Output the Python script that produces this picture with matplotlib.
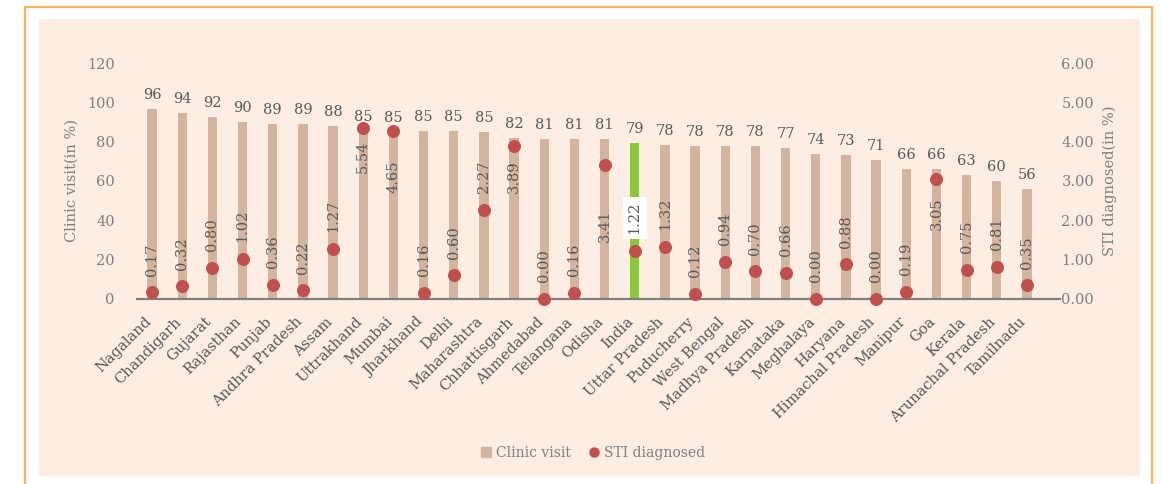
import numpy as np
import matplotlib
matplotlib.use("Agg")
import matplotlib.pyplot as plt
import matplotlib.transforms as mtransforms
from matplotlib.patches import Rectangle
from matplotlib.lines import Line2D

states = ["Nagaland", "Chandigarh", "Gujarat", "Rajasthan", "Punjab",
          "Andhra Pradesh", "Assam", "Uttrakhand", "Mumbai", "Jharkhand",
          "Delhi", "Maharashtra", "Chhattisgarh", "Ahmedabad", "Telangana",
          "Odisha", "India", "Uttar Pradesh", "Puducherry", "West Bengal",
          "Madhya Pradesh", "Karnataka", "Meghalaya", "Haryana",
          "Himachal Pradesh", "Manipur", "Goa", "Kerala",
          "Arunachal Pradesh", "Tamilnadu"]
clinic_visit = [96.4, 94.4, 92.4, 89.8, 89.1, 88.8, 87.9, 85.2, 85.1, 85.4,
                85.4, 84.9, 81.9, 81.4, 81.4, 81.3, 79.3, 78.3, 77.9, 77.9,
                77.8, 76.9, 73.9, 73.0, 70.7, 66.1, 65.9, 63.0, 60.2, 55.9]
sti_label = ["0.17", "0.32", "0.80", "1.02", "0.36", "0.22", "1.27", "5.54",
             "4.65", "0.16", "0.60", "2.27", "3.89", "0.00", "0.16", "3.41",
             "1.22", "1.32", "0.12", "0.94", "0.70", "0.66", "0.00", "0.88",
             "0.00", "0.19", "3.05", "0.75", "0.81", "0.35"]
# dot heights as drawn in the source (Uttrakhand / Mumbai sit below their labels)
sti_dot = [0.17, 0.32, 0.80, 1.02, 0.36, 0.22, 1.27, 4.35, 4.28, 0.16, 0.60,
           2.27, 3.89, 0.00, 0.16, 3.41, 1.22, 1.32, 0.12, 0.94, 0.70, 0.66,
           0.00, 0.88, 0.00, 0.19, 3.05, 0.75, 0.81, 0.35]

BAR = "#d3b49f"
HIGHLIGHT = "#8dc63f"
DOT = "#c0504d"
BG = "#fdede3"
TXT = "#595959"
TICK = "#7f7f7f"
FONT = "DejaVu Serif"

# label offsets in px (positive = above the dot)
label_off = {"Uttrakhand": -29, "Mumbai": -46, "Chhattisgarh": -31,
             "Odisha": -61, "Goa": -35}

plt.rcParams["font.family"] = FONT
fig = plt.figure(figsize=(11.61, 4.84), dpi=100)
fig.patch.set_facecolor("white")
W, H = 1161, 484
fig.add_artist(Rectangle((39 / W, 1 - 476 / H), (1140 - 39) / W, (476 - 19) / H,
                         transform=fig.transFigure, facecolor=BG,
                         edgecolor="none", zorder=0))
fig.add_artist(Line2D([25 / W, 25 / W, 1152 / W, 1152 / W],
                      [0, 1 - 6.5 / H, 1 - 6.5 / H, 0],
                      transform=fig.transFigure, color="#f8b45a", lw=1.6))

ax = fig.add_axes([137 / W, 1 - 299 / H, (1042 - 137) / W, (299 - 63) / H])
ax.set_facecolor("none")
x = np.arange(len(states))
colors = [HIGHLIGHT if s == "India" else BAR for s in states]
ax.bar(x, clinic_visit, width=0.31, color=colors, zorder=2)
ax.set_xlim(-0.5, len(states) - 0.5)
ax.set_ylim(0, 120)
ax.set_yticks(range(0, 121, 20))
for xi, v in zip(x, clinic_visit):
    ax.annotate(f"{v:.0f}", (xi, v), xytext=(0, 5), textcoords="offset points",
                ha="center", va="bottom", fontsize=10.5, color=TXT)
ax.set_ylabel("Clinic visit(in %)", fontsize=10.5, color=TICK, labelpad=6)

ax2 = ax.twinx()
ax2.set_ylim(0, 6)
ax2.set_yticks(np.arange(0, 6.01, 1))
ax2.set_yticklabels([f"{t:.2f}" for t in np.arange(0, 6.01, 1)])
ax2.scatter(x, sti_dot, s=70, color=DOT, zorder=4, clip_on=False)
for xi, s, v, lab in zip(x, states, sti_dot, sti_label):
    off = label_off.get(s, 33) * 0.72
    box = dict(boxstyle="square,pad=0.35", fc="white", ec="none") if s == "India" else None
    ax2.annotate(lab, (xi, v), xytext=(0, off), textcoords="offset points",
                 ha="center", va="center", rotation=90, fontsize=10.5,
                 color=TXT, bbox=box, zorder=5)
ax2.set_ylabel("STI diagnosed(in %)", fontsize=10.5, color=TICK, labelpad=6)

for a in (ax, ax2):
    for sp in a.spines.values():
        sp.set_visible(False)
    a.tick_params(axis="y", length=0, labelsize=10.5, labelcolor=TICK)
ax.tick_params(axis="y", pad=16)
ax2.tick_params(axis="y", pad=14)
ax.plot([0, 1.02], [0, 0], transform=ax.transAxes, color="#808080", lw=1.6,
        clip_on=False, zorder=3)

ax.set_xticks(x)
ax.set_xticklabels(states, rotation=45, ha="right", va="top",
                   rotation_mode="anchor", fontsize=10.5, color=TXT)
ax.tick_params(axis="x", length=0, pad=4)
shift = mtransforms.ScaledTranslation(-8 / 100, -10 / 100, fig.dpi_scale_trans)
for lbl in ax.get_xticklabels():
    lbl.set_transform(lbl.get_transform() + shift)

handles = [Rectangle((0, 0), 1, 1, color=BAR),
           Line2D([], [], marker="o", ls="none", color=DOT, markersize=6.5)]
fig.legend(handles, ["Clinic visit", "STI diagnosed"], loc="center",
           bbox_to_anchor=(593 / W, 1 - 453 / H), ncol=2, frameon=False,
           fontsize=10, labelcolor=TICK, handlelength=0.75, handleheight=0.75,
           handletextpad=0.35, columnspacing=1.3)

fig.savefig("out.png", dpi=100, facecolor="white")
